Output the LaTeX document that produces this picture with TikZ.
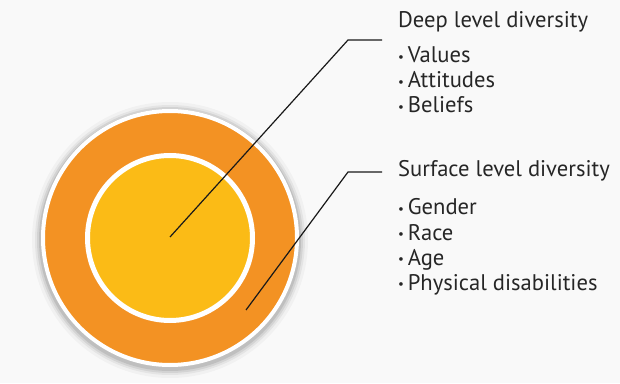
\documentclass[tikz,border=0pt]{standalone}
\usepackage{fontspec}
\setmainfont{PT Sans}
\usepackage{tikz}
\definecolor{ringorange}{HTML}{F39223}
\definecolor{coreyellow}{HTML}{FBBB16}
\definecolor{paper}{HTML}{F9F9F9}
\tikzset{
    disc/.style={circle, draw=white, inner sep=0pt},
    heading/.style={anchor=base west, inner sep=0pt, text=black!85,
    	font=\fontsize{22.6}{22.6}\selectfont},
    item/.style={anchor=base west, inner sep=0pt, text=black!85,
    	font=\fontsize{22.6}{22.6}\selectfont},
    leader/.style={line width=1.2pt, black!90}
}
\newcommand{\bul}{{\fontsize{13}{13}\selectfont\raisebox{0.3ex}{\textbullet}}\,}

\begin{document}
\begin{tikzpicture}[x=1pt, y=1pt]
	\useasboundingbox[fill=paper] (0,0) rectangle (620,383);
	% soft shadow
	\foreach \r/\o in {138/0.03, 135/0.05, 133/0.07, 131/0.09} {
		\fill[black, opacity=\o] (170,143) circle (\r);
	}
	\node (outer) [disc, fill=ringorange, line width=4pt, minimum size=254pt] at (170,145) {};
	\node (inner) [disc, fill=coreyellow, line width=5pt, minimum size=165pt] at (170,145) {};
	\coordinate (core) at (170,146);
	\coordinate (ring) at (246,73);
	\coordinate (deepbend) at (348,343);
	\coordinate (deepend) at (382,343);
	\coordinate (surfbend) at (348,211);
	\coordinate (surfend) at (382,211);
	\draw[leader] (core) -- (deepbend) -- (deepend);
	\draw[leader] (ring) -- (surfbend) -- (surfend);
	\node (deep) [heading] at (398,355) {Deep level diversity};
	\node (values) [item] at (398,320) {\bul Values};
	\node (attitudes) [item] at (398,295) {\bul Attitudes};
	\node (beliefs) [item] at (398,270) {\bul Beliefs};
	\node (surface) [heading] at (398,206) {Surface level diversity};
	\node (gender) [item] at (398,168) {\bul Gender};
	\node (race) [item] at (398,143) {\bul Race};
	\node (age) [item] at (398,118) {\bul Age};
	\node (physical) [item] at (398,93) {\bul Physical disabilities};
\end{tikzpicture}
\end{document}
